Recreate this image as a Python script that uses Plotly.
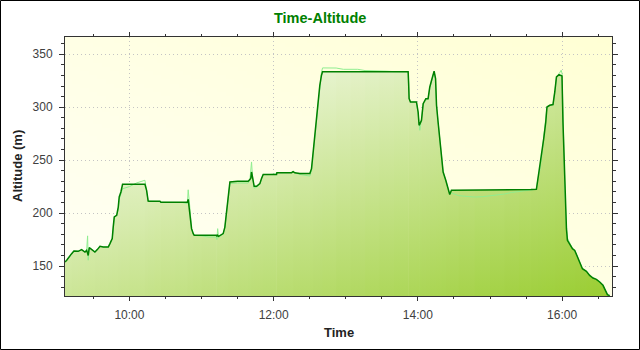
import base64
import struct
import zlib

import pandas as pd
import plotly.graph_objects as go

# ---------------- data ----------------
# time of day in minutes after midnight
minutes = [
    546.4, 547.8, 551.9, 553.8, 557.4, 560.2, 563.0, 564.4, 565.2, 565.7,
    566.6, 568.6, 571.3, 573.3, 575.5, 578.2, 582.4, 583.8, 585.7, 586.5,
    587.4, 589.4, 590.7, 591.5, 592.9, 594.3, 600.0, 606.0, 612.9, 614.3,
    615.6, 616.5, 621.0, 625.4, 626.2, 632.0, 638.0, 644.0, 648.2, 648.9,
    650.3, 651.7, 653.1, 653.9, 660.0, 666.0, 672.5, 672.8, 673.4, 674.2,
    675.3, 678.0, 679.4, 680.8, 682.2, 683.6, 690.0, 694.0, 698.8, 700.2,
    701.0, 701.6, 702.3, 703.0, 703.8, 705.8, 708.5, 709.9, 711.3, 717.0,
    722.4, 722.7, 729.0, 734.9, 736.2, 737.6, 741.8, 746.0, 750.1, 751.5,
    752.8, 754.3, 755.7, 757.0, 758.4, 759.8, 760.7, 766.0, 772.0, 778.0,
    784.0, 790.0, 796.0, 802.0, 808.0, 814.0, 820.0, 826.0, 831.9, 832.3,
    832.7, 833.8, 838.8, 840.2, 841.0, 841.6, 843.0, 844.4, 846.6, 848.5,
    849.9, 851.4, 852.7, 853.5, 854.7, 855.5, 856.8, 858.2, 859.6, 861.0,
    863.2, 865.1, 866.5, 867.9, 874.0, 880.0, 887.3, 894.0, 900.0, 906.0,
    912.0, 918.0, 924.0, 930.0, 934.0, 938.6, 939.9, 941.4, 942.8, 944.7,
    946.4, 947.4, 949.7, 952.4, 953.9, 955.3, 957.4, 959.2, 959.9, 960.7,
    961.6, 962.4, 963.6, 964.4, 966.3, 968.6, 970.5, 972.4, 974.6, 976.9,
    980.2, 982.9, 985.7, 988.5, 991.3, 994.0, 996.0, 997.7, 999.6,
]

# dark green series (filled area outline), metres
alt_dark = [
    153.8, 155.4, 161.7, 164.2, 163.9, 165.5, 163.2, 164.8, 162.0, 160.0,
    167.4, 165.8, 163.2, 165.5, 168.6, 168.0, 168.0, 171.2, 175.9, 186.8,
    196.3, 197.9, 205.7, 215.2, 219.9, 227.2, 227.2, 227.2, 227.2, 221.5,
    211.4, 211.2, 211.2, 211.2, 210.2, 210.2, 210.2, 210.2, 210.2, 213.0,
    201.0, 185.3, 180.6, 179.0, 179.0, 179.0, 179.0, 178.0, 179.0, 178.0,
    179.0, 180.6, 186.8, 201.0, 218.4, 229.4, 230.0, 230.0, 230.0, 231.6,
    233.0, 238.8, 235.0, 231.0, 225.3, 225.3, 227.8, 232.6, 236.5, 236.5,
    236.5, 238.2, 238.2, 238.2, 239.2, 238.0, 237.3, 237.3, 237.3, 242.0,
    257.7, 273.5, 292.4, 308.1, 320.7, 330.2, 333.4, 333.4, 333.4, 333.4,
    333.4, 333.4, 333.4, 333.4, 333.4, 333.4, 333.4, 333.4, 333.4, 322.3,
    308.1, 305.0, 305.0, 295.5, 282.9, 284.0, 287.6, 303.4, 308.1, 308.1,
    319.1, 325.4, 330.2, 334.0, 327.0, 301.8, 286.0, 270.4, 254.6, 238.8,
    231.0, 221.5, 217.5, 221.5, 221.5, 221.8, 221.8, 221.8, 221.8, 221.8,
    222.0, 222.0, 222.0, 222.0, 222.2, 222.5, 232.6, 240.4, 251.5, 270.4,
    286.0, 300.2, 301.8, 302.5, 314.4, 328.6, 330.8, 330.0, 329.5, 286.0,
    254.6, 216.8, 185.3, 174.3, 171.2, 166.4, 164.8, 160.1, 153.8, 147.5,
    145.0, 141.2, 138.7, 137.4, 134.9, 131.8, 127.0, 123.0, 122.0,
]

# light green series (raw readings), metres
alt_light = [
    153.8, 155.4, 161.2, 164.2, 163.9, 165.5, 163.2, 164.8, 178.5, 155.5,
    167.0, 165.8, 163.2, 165.5, 168.6, 168.0, 168.0, 171.2, 175.9, 184.0,
    196.3, 197.9, 203.0, 213.0, 219.0, 223.0, 225.0, 228.5, 231.0, 221.5,
    211.4, 211.2, 211.2, 211.0, 210.2, 210.2, 210.2, 210.0, 209.0, 222.0,
    205.0, 185.3, 180.6, 179.0, 178.5, 177.4, 177.4, 175.0, 185.3, 177.0,
    178.0, 180.6, 186.0, 199.0, 216.0, 228.0, 228.4, 228.4, 228.4, 231.0,
    240.0, 248.3, 236.0, 229.0, 223.5, 224.5, 227.0, 232.0, 236.5, 236.5,
    237.0, 238.0, 238.2, 238.2, 239.8, 238.0, 236.5, 235.5, 235.0, 240.0,
    255.0, 272.0, 290.0, 306.0, 320.0, 333.0, 337.1, 337.1, 337.0, 335.8,
    335.8, 335.8, 334.6, 334.6, 334.2, 334.0, 333.6, 333.4, 333.4, 322.3,
    308.1, 305.0, 305.0, 294.0, 280.0, 278.2, 289.0, 303.4, 306.5, 308.1,
    318.0, 325.4, 330.2, 333.5, 327.0, 301.8, 286.0, 270.4, 254.6, 238.8,
    231.0, 221.5, 217.5, 219.0, 216.5, 215.8, 215.2, 215.5, 216.3, 217.0,
    218.0, 219.5, 220.5, 221.3, 221.8, 222.5, 232.6, 240.4, 251.5, 270.4,
    286.0, 300.2, 301.8, 302.5, 314.4, 328.6, 331.5, 334.9, 332.0, 286.0,
    254.6, 216.8, 185.3, 176.5, 172.0, 166.4, 164.8, 160.1, 154.5, 147.5,
    145.0, 141.2, 138.7, 137.4, 134.9, 131.8, 127.0, 123.0, 122.0,
]

x_range_minutes = [546.4, 1001.5]
y_range = [121.7, 366.3]

TITLE = "Time-Altitude"
X_TITLE = "Time"
Y_TITLE = "Altitude (m)"

# ---------------- helpers ----------------
BASE = pd.Timestamp("2010-06-01")


def to_time(m):
    return BASE + pd.Timedelta(minutes=m)


times = [to_time(m) for m in minutes]

W, H = 640, 350
ML, MR, MT, MB = 65, 28, 37, 54
PW, PH = W - ML - MR, H - MT - MB


def make_png(w, h, fn):
    rows = []
    for j in range(h):
        row = bytearray([0])
        for i in range(w):
            row += bytes(fn((i + 0.5) / w, (j + 0.5) / h))
        rows.append(bytes(row))
    raw = b"".join(rows)

    def chunk(tag, data):
        c = struct.pack(">I", len(data)) + tag + data
        return c + struct.pack(">I", zlib.crc32(tag + data) & 0xFFFFFFFF)

    png = (b"\x89PNG\r\n\x1a\n"
           + chunk(b"IHDR", struct.pack(">IIBBBBB", w, h, 8, 2, 0, 0, 0))
           + chunk(b"IDAT", zlib.compress(raw))
           + chunk(b"IEND", b""))
    return "data:image/png;base64," + base64.b64encode(png).decode()


BG_A = (255, 255, 246)   # bottom-left
BG_B = (255, 255, 212)   # top-right


def bg_fn(u, v):
    s = (u + (1 - v)) / 2
    return tuple(round(a + (b - a) * s) for a, b in zip(BG_A, BG_B))


WHITE = (255, 255, 255)
YELLOWGREEN = (154, 205, 50)


def mix(s):
    return "rgb(%d,%d,%d)" % tuple(round(a + (b - a) * s) for a, b in zip(WHITE, YELLOWGREEN))


fig = go.Figure()

# gradient fill under the dark series, built as narrow overlapping strips
t0, t1 = minutes[0], minutes[-1]
ytop = max(alt_dark)
ybot = y_range[0]
n = len(minutes)
i = 0
while i < n - 1:
    j = min(i + 3, n - 1)
    u = ((minutes[i] + minutes[j]) / 2 - t0) / (t1 - t0)
    fig.add_trace(go.Scatter(
        x=times[i:j + 1], y=alt_dark[i:j + 1], mode="none", fill="tozeroy",
        fillgradient=dict(type="vertical",
                          colorscale=[[0, mix((u + 1) / 2)], [1, mix(u / 2)]],
                          start=ybot, stop=ytop),
        hoverinfo="skip", showlegend=False))
    i += 2

fig.add_trace(go.Scatter(x=times, y=alt_light, mode="lines",
                         line=dict(color="#90EE90", width=1), showlegend=False))
fig.add_trace(go.Scatter(x=times, y=alt_dark, mode="lines",
                         line=dict(color="#008000", width=1.5), showlegend=False))

tick_font = dict(family="Liberation Sans, Arial, sans-serif", size=12, color="#404040")
line_col = "#333333"

fig.update_xaxes(
    type="date", range=[to_time(x_range_minutes[0]), to_time(x_range_minutes[1])],
    tickformat="%H:%M", tick0=BASE, dtick=2 * 3600 * 1000,
    ticks="outside", ticklen=4, tickcolor=line_col, ticklabelstandoff=4,
    showline=True, linecolor=line_col, linewidth=1, mirror="ticks",
    showgrid=True, gridcolor="#c4c4c4", griddash="1px,3px", gridwidth=1,
    minor=dict(dtick=30 * 60 * 1000, ticks="outside", ticklen=2, tickcolor=line_col, showgrid=False),
    zeroline=False, tickfont=tick_font,
)
fig.update_yaxes(
    range=y_range, tick0=0, dtick=50,
    ticks="outside", ticklen=5, tickcolor=line_col, ticklabelstandoff=4,
    showline=True, linecolor=line_col, linewidth=1, mirror="ticks",
    showgrid=True, gridcolor="#c4c4c4", griddash="1px,3px", gridwidth=1,
    minor=dict(dtick=10, ticks="outside", ticklen=3, tickcolor=line_col, showgrid=False),
    zeroline=False, tickfont=tick_font,
)


def px_x(p):
    return (p - ML) / PW


def px_y(p):
    return (H - MB - p) / PH


bold_font = dict(family="Liberation Sans, Arial, sans-serif", size=13, color="#222222")
fig.update_layout(
    width=W, height=H, margin=dict(l=ML, r=MR, t=MT, b=MB, autoexpand=False),
    paper_bgcolor="white", plot_bgcolor="rgba(0,0,0,0)",
    showlegend=False,
    images=[dict(source=make_png(128, 64, bg_fn), xref="paper", yref="paper",
                 x=0, y=1, sizex=1, sizey=1, xanchor="left", yanchor="top",
                 sizing="stretch", layer="below")],
    annotations=[
        dict(text="<b>%s</b>" % TITLE, xref="paper", yref="paper", x=px_x(320), y=px_y(18),
             showarrow=False, xanchor="center", yanchor="middle",
             font=dict(family="Liberation Sans, Arial, sans-serif", size=14.5, color="#008000")),
        dict(text="<b>%s</b>" % X_TITLE, xref="paper", yref="paper", x=px_x(339), y=px_y(332),
             showarrow=False, xanchor="center", yanchor="middle", font=bold_font),
        dict(text="<b>%s</b>" % Y_TITLE, xref="paper", yref="paper", x=px_x(17), y=px_y(166),
             showarrow=False, xanchor="center", yanchor="middle", textangle=-90, font=bold_font),
    ],
    shapes=[dict(type="rect", xref="paper", yref="paper",
                 x0=px_x(0.5), x1=px_x(639.5), y0=px_y(349.5), y1=px_y(0.5),
                 line=dict(color="#000000", width=1), fillcolor="rgba(0,0,0,0)")],
)

fig.write_html("out.html")
